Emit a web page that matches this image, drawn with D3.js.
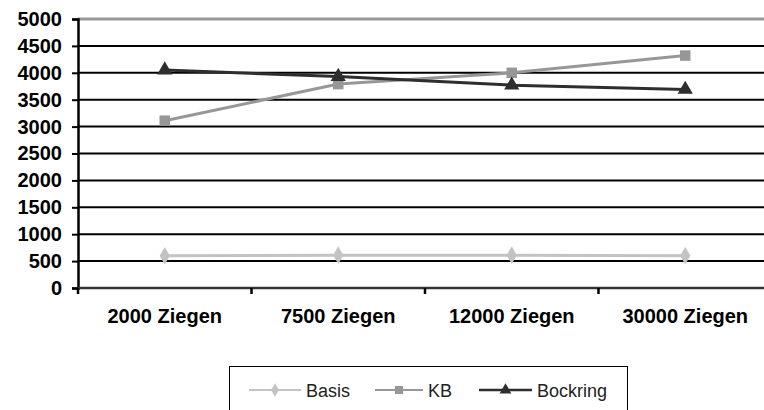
<!DOCTYPE html>
<html>
<head>
<meta charset="utf-8">
<script src="https://cdn.jsdelivr.net/npm/d3@7"></script>
<style>
  body { margin: 0; background: #fff; }
  svg { display: block; }
</style>
</head>
<body>
<div id="chart"></div>
<script>
// data
var categories = ["2000 Ziegen", "7500 Ziegen", "12000 Ziegen", "30000 Ziegen"]
var basis = [600, 610, 610, 600]
var kb = [3110, 3790, 4000, 4320]
var bockring = [4050, 3930, 3770, 3690]
var yTicks = [0, 500, 1000, 1500, 2000, 2500, 3000, 3500, 4000, 4500, 5000]

var series = [
    {name: "Basis", values: basis, color: "#c3c3c3", symbol: d3.symbolDiamond, size: 90},
    {name: "KB", values: kb, color: "#979797", symbol: d3.symbolSquare, size: 110},
    {name: "Bockring", values: bockring, color: "#2e2e2e", symbol: d3.symbolTriangle, size: 100}
]

var width = 764, height = 410
var plot = {left: 78, right: 772, top: 19, bottom: 288}

var svg = d3.select("#chart")
    .append("svg")
    .attr("width", width)
    .attr("height", height)

var x = d3.scaleBand()
    .domain(categories)
    .range([plot.left, plot.right])

var y = d3.scaleLinear()
    .domain([0, 5000])
    .range([plot.bottom, plot.top])

// horizontal grid lines
svg.append("g").selectAll("line")
    .data(yTicks.filter(t => t > 0))
    .enter()
    .append("line")
    .attr("x1", plot.left)
    .attr("x2", width)
    .attr("y1", d => y(d))
    .attr("y2", d => y(d))
    .attr("stroke", d => d == 5000 ? "#999" : "#000")
    .attr("stroke-width", d => d == 5000 ? 3 : 2)

// y axis
var yAxis = svg.append("g")
    .attr("transform", "translate(" + plot.left + ",0)")
    .call(d3.axisLeft(y).tickValues(yTicks).tickFormat(d3.format("d")).tickSize(6).tickPadding(10))
yAxis.select(".domain").attr("stroke", "#000").attr("stroke-width", 2.5)
yAxis.selectAll(".tick line").attr("stroke", "#000").attr("stroke-width", 2)
yAxis.selectAll("text")
    .attr("font-family", "Liberation Sans, Arial, sans-serif")
    .attr("font-weight", "bold")
    .attr("font-size", "20px")
    .attr("fill", "#000")

// x axis line and ticks between categories
svg.append("line")
    .attr("x1", plot.left)
    .attr("x2", width)
    .attr("y1", y(0))
    .attr("y2", y(0))
    .attr("stroke", "#333")
    .attr("stroke-width", 2.5)

svg.append("g").selectAll("line")
    .data(categories)
    .enter()
    .append("line")
    .attr("x1", d => x(d))
    .attr("x2", d => x(d))
    .attr("y1", y(0))
    .attr("y2", y(0) + 6)
    .attr("stroke", "#000")
    .attr("stroke-width", 2.5)

svg.append("g").selectAll("text")
    .data(categories)
    .enter()
    .append("text")
    .attr("x", d => x(d) + x.bandwidth() / 2)
    .attr("y", 323)
    .attr("text-anchor", "middle")
    .attr("font-family", "Liberation Sans, Arial, sans-serif")
    .attr("font-weight", "bold")
    .attr("font-size", "20px")
    .text(d => d)

// lines and markers
var line = d3.line()
    .x((d, i) => x(categories[i]) + x.bandwidth() / 2)
    .y(d => y(d))

series.forEach(s => {
    svg.append("path")
        .datum(s.values)
        .attr("d", line)
        .attr("fill", "none")
        .attr("stroke", s.color)
        .attr("stroke-width", 3)

    svg.append("g").selectAll("path")
        .data(s.values)
        .enter()
        .append("path")
        .attr("d", d3.symbol().type(s.symbol).size(s.size))
        .attr("transform", (d, i) => "translate(" + (x(categories[i]) + x.bandwidth() / 2) + "," + y(d) + ")")
        .attr("fill", s.color)
})

// legend
var legend = svg.append("g")
legend.append("rect")
    .attr("x", 229.5)
    .attr("y", 366.5)
    .attr("width", 398)
    .attr("height", 60)
    .attr("fill", "#fff")
    .attr("stroke", "#000")
    .attr("stroke-width", 1)

var legendX = [249, 375, 479]
var legendLen = [52, 48, 53]
series.forEach((s, i) => {
    var g = legend.append("g")
    g.append("line")
        .attr("x1", legendX[i])
        .attr("x2", legendX[i] + legendLen[i])
        .attr("y1", 390)
        .attr("y2", 390)
        .attr("stroke", s.color)
        .attr("stroke-width", s.name == "Bockring" ? 2.5 : 2)
    g.append("path")
        .attr("d", d3.symbol().type(s.symbol).size(s.size * 0.6))
        .attr("transform", "translate(" + (legendX[i] + legendLen[i] / 2) + ",390)")
        .attr("fill", s.color)
    g.append("text")
        .attr("x", legendX[i] + legendLen[i] + 5)
        .attr("y", 396.5)
        .attr("font-family", "Liberation Sans, Arial, sans-serif")
        .attr("font-size", "18px")
        .attr("fill", "#222")
        .text(s.name)
})
</script>
</body>
</html>
